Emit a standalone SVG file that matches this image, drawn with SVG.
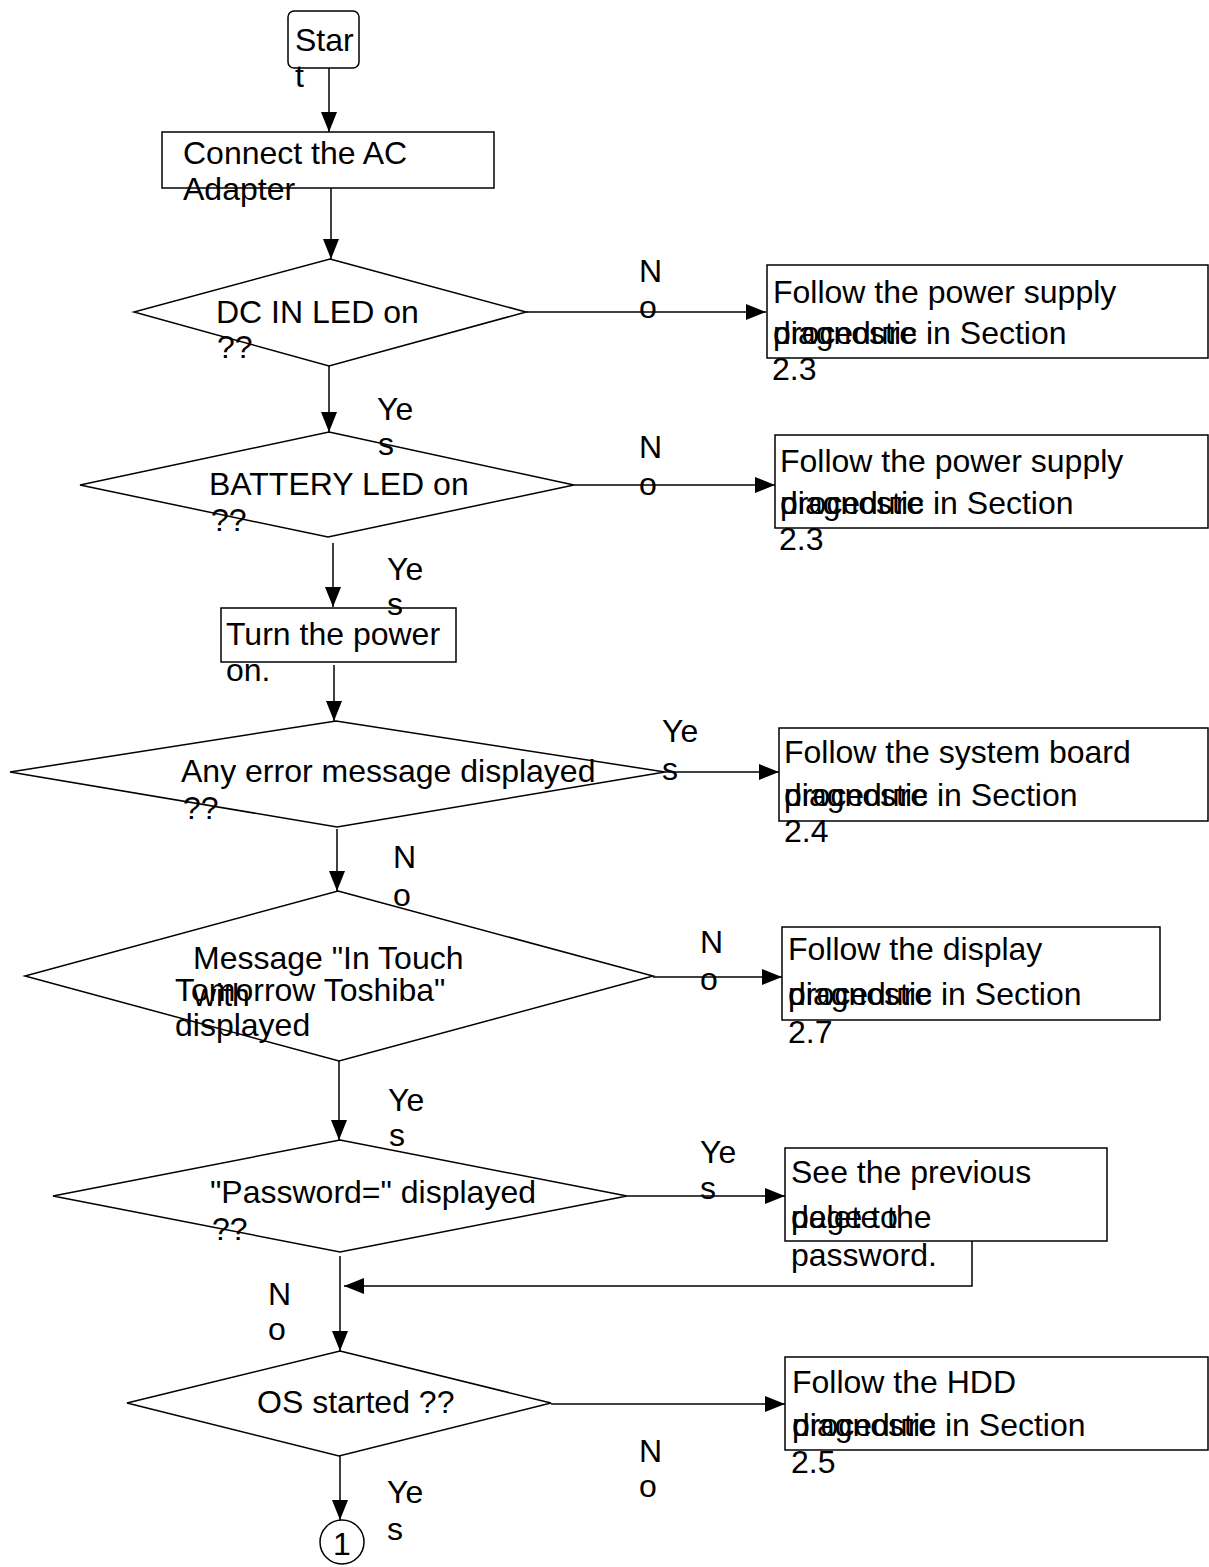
<svg xmlns="http://www.w3.org/2000/svg" width="1209" height="1567" viewBox="0 0 1209 1567">
<style>
text{font-family:"Liberation Sans",Arial,sans-serif;font-size:32px;fill:#000}
.s{fill:#fff;stroke:#000;stroke-width:1.5}
.c{fill:none;stroke:#000;stroke-width:1.5}
</style>
<defs>
<marker id="ah" viewBox="0 0 20 16" refX="20" refY="8" markerWidth="20" markerHeight="16" markerUnits="userSpaceOnUse" orient="auto">
<path d="M0,0 L20,8 L0,16 Z" fill="#000"/>
</marker>
</defs>
<rect width="1209" height="1567" fill="#fff"/>

<g id="connectors">
<line class="c" x1="329" y1="68" x2="329" y2="132" marker-end="url(#ah)"/>
<line class="c" x1="331" y1="188" x2="331" y2="259" marker-end="url(#ah)"/>
<line class="c" x1="526" y1="312" x2="766" y2="312" marker-end="url(#ah)"/>
<line class="c" x1="329" y1="366" x2="329" y2="432" marker-end="url(#ah)"/>
<line class="c" x1="574" y1="485" x2="775" y2="485" marker-end="url(#ah)"/>
<line class="c" x1="333" y1="543" x2="333" y2="607" marker-end="url(#ah)"/>
<line class="c" x1="334" y1="665" x2="334" y2="721" marker-end="url(#ah)"/>
<line class="c" x1="665" y1="772" x2="779" y2="772" marker-end="url(#ah)"/>
<line class="c" x1="337" y1="829" x2="337" y2="891" marker-end="url(#ah)"/>
<line class="c" x1="653" y1="977" x2="782" y2="977" marker-end="url(#ah)"/>
<line class="c" x1="339" y1="1061" x2="339" y2="1140" marker-end="url(#ah)"/>
<line class="c" x1="627" y1="1196" x2="785" y2="1196" marker-end="url(#ah)"/>
<polyline class="c" points="972,1241 972,1286 344,1286" marker-end="url(#ah)"/>
<line class="c" x1="340" y1="1256" x2="340" y2="1351" marker-end="url(#ah)"/>
<line class="c" x1="551" y1="1404" x2="785" y2="1404" marker-end="url(#ah)"/>
<line class="c" x1="340" y1="1456" x2="340" y2="1520" marker-end="url(#ah)"/>
</g>

<g id="start">
<rect class="s" x="288" y="11" width="71" height="57" rx="6"/>
<text x="295" y="51">Star</text><text x="295" y="87">t</text>
</g>
<g id="connect">
<rect class="s" x="162" y="132" width="332" height="56"/>
<text x="183" y="164">Connect the AC</text><text x="183" y="200">Adapter</text>
</g>
<g id="dcin">
<polygon class="s" points="330,259 526,312 329,366 134,312"/>
<text x="216" y="323">DC IN LED on</text><text x="217" y="358">??</text>
</g>
<g id="box-dcin">
<rect class="s" x="767" y="265" width="441" height="93"/>
<text x="773" y="303">Follow the power supply</text>
<text x="773" y="344">diagnostic</text><text x="773" y="344">procedure in Section</text>
<text x="772" y="380">2.3</text>
</g>
<g id="battery">
<polygon class="s" points="329,432 574,485 328,537 80,485"/>
<text x="209" y="495">BATTERY LED on</text><text x="211" y="531">??</text>
</g>
<g id="box-battery">
<rect class="s" x="775" y="435" width="433" height="93"/>
<text x="780" y="472">Follow the power supply</text>
<text x="780" y="514">diagnostic</text><text x="780" y="514">procedure in Section</text>
<text x="779" y="550">2.3</text>
</g>
<g id="poweron">
<rect class="s" x="221" y="608" width="235" height="54"/>
<text x="226" y="645">Turn the power</text><text x="226" y="681">on.</text>
</g>
<g id="error">
<polygon class="s" points="336,721 665,772 337,827 10,772"/>
<text x="181" y="782">Any error message displayed</text><text x="183" y="819">??</text>
</g>
<g id="box-error">
<rect class="s" x="779" y="728" width="429" height="93"/>
<text x="784" y="763">Follow the system board</text>
<text x="784" y="806">diagnostic</text><text x="784" y="806">procedure in Section</text>
<text x="784" y="842">2.4</text>
</g>
<g id="message">
<polygon class="s" points="338,891 653,976 339,1061 25,976"/>
<text x="193" y="969">Message "In Touch</text><text x="193" y="1006">with</text>
<text x="175" y="1001">Tomorrow Toshiba"</text><text x="175" y="1036">displayed</text>
</g>
<g id="box-message">
<rect class="s" x="782" y="927" width="378" height="93"/>
<text x="788" y="960">Follow the display</text>
<text x="788" y="1005">diagnostic</text><text x="788" y="1005">procedure in Section</text>
<text x="788" y="1043">2.7</text>
</g>
<g id="password">
<polygon class="s" points="340,1140 627,1196 340,1252 53,1196"/>
<text x="210" y="1203">"Password=" displayed</text><text x="212" y="1240">??</text>
</g>
<g id="box-password">
<rect class="s" x="785" y="1148" width="322" height="93"/>
<text x="791" y="1183">See the previous</text>
<text x="791" y="1228">page to</text><text x="791" y="1228">delete the</text>
<text x="791" y="1266">password.</text>
</g>
<g id="os">
<polygon class="s" points="340,1351 551,1403 339,1456 127,1403"/>
<text x="257" y="1413">OS started ??</text>
</g>
<g id="box-os">
<rect class="s" x="785" y="1357" width="423" height="93"/>
<text x="792" y="1393">Follow the HDD</text>
<text x="792" y="1436">diagnostic</text><text x="792" y="1436">procedure in Section</text>
<text x="791" y="1473">2.5</text>
</g>
<g id="connector-1">
<circle class="s" cx="342" cy="1542" r="22"/>
<text x="342" y="1555" text-anchor="middle">1</text>
</g>

<g id="connector-labels">
<text x="639" y="282">N</text><text x="639" y="318">o</text>
<text x="377" y="420">Ye</text><text x="378" y="455">s</text>
<text x="639" y="458">N</text><text x="639" y="495">o</text>
<text x="387" y="580">Ye</text><text x="387" y="615">s</text>
<text x="662" y="742">Ye</text><text x="662" y="780">s</text>
<text x="393" y="868">N</text><text x="393" y="906">o</text>
<text x="700" y="953">N</text><text x="700" y="990">o</text>
<text x="388" y="1111">Ye</text><text x="389" y="1146">s</text>
<text x="700" y="1163">Ye</text><text x="700" y="1199">s</text>
<text x="268" y="1305">N</text><text x="268" y="1340">o</text>
<text x="639" y="1462">N</text><text x="639" y="1497">o</text>
<text x="387" y="1503">Ye</text><text x="387" y="1540">s</text>
</g>
</svg>
